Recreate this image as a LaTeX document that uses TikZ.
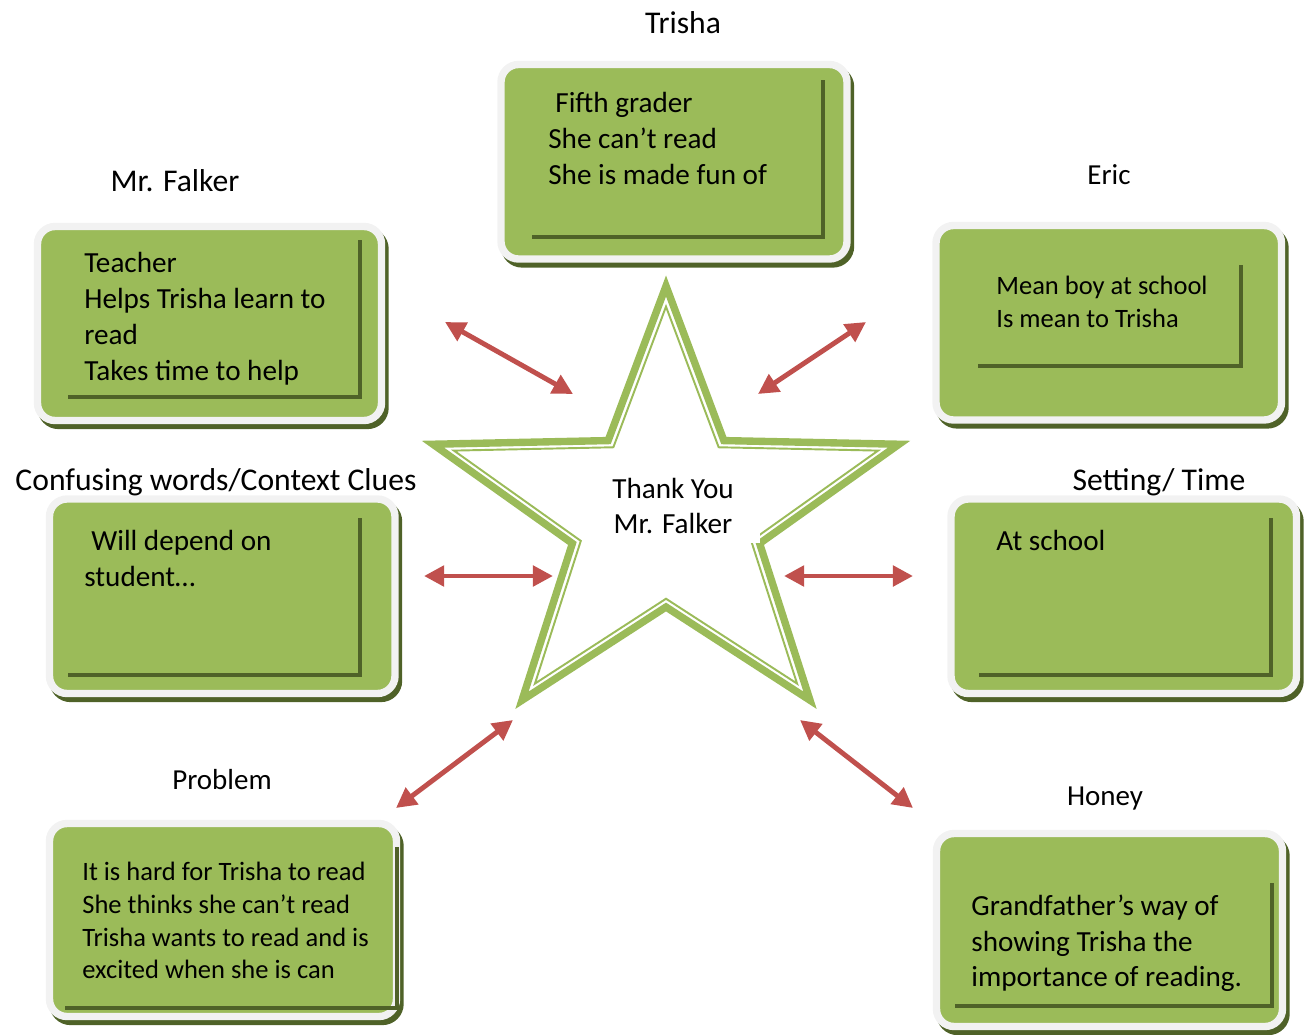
\documentclass[tikz,border=0pt]{standalone}
\usepackage{fontspec}
\setmainfont{Carlito}
\usetikzlibrary{arrows.meta,shadows,fit}
\definecolor{cardgreen}{HTML}{9BBB59}
\definecolor{darkgreen}{HTML}{4F6228}
\definecolor{cardrim}{HTML}{F2F2F2}
\definecolor{arrowred}{HTML}{C0504D}
\tikzset{
  card/.style={draw=cardrim, fill=cardgreen, line width=4.2pt, rounded corners=10pt, inner sep=0pt,
    general shadow={draw=darkgreen, fill=darkgreen, shadow xshift=2pt, shadow yshift=-2.8pt}},
  cardline/.style={darkgreen, line width=2.8pt},
  cardtext/.style={anchor=north west, align=left, inner sep=0pt, font=\fontsize{16.6}{20.4}\selectfont},
  smalltext/.style={cardtext, font=\fontsize{15.1}{18.6}\selectfont},
  title/.style={anchor=base, inner sep=0pt, font=\fontsize{18}{22}\selectfont},
  subtitle/.style={title, font=\fontsize{16.5}{20}\selectfont},
  link/.style={arrowred, line width=2.8pt, {Triangle[length=11.5pt,width=11.5pt]}-{Triangle[length=11.5pt,width=11.5pt]}},
}
\begin{document}
\begin{tikzpicture}[x=0.02cm, y=-0.02cm]
\useasboundingbox (0,0) rectangle (1307,1034);
%%%%%%%%%%%%%
\node[card, fit={(501,64.5) (847,259)}] (trishacard) {};
\node[card, fit={(37.5,226.5) (381.5,420.5)}] (falkercard) {};
\node[card, fit={(936,225.5) (1281.5,420)}] (ericcard) {};
\node[card, fit={(49.5,499) (395,693.5)}] (wordscard) {};
\node[card, fit={(951,499) (1296.5,693.5)}] (settingcard) {};
\node[card, fit={(49.5,823.5) (396.5,1016.5)}] (problemcard) {};
\node[card, fit={(936.5,833.5) (1282.5,1026.5)}] (honeycard) {};
%%%%%%%%%%%%%
\draw[cardline] (532,237) -| (823,80);
\draw[cardline] (68,397) -| (360,240);
\draw[cardline] (978,366) -| (1241,265);
\draw[cardline] (68,675) -| (360,518);
\draw[cardline] (979,675) -| (1271,518);
\draw[cardline] (65,1008) -| (397,847);
\draw[cardline] (955,1006) -| (1272,883);
%%%%%%%%%%%%%
\node[cardtext] (trishatext) at (548,92) {\hspace{4pt}Fifth grader\\She can’t read\\She is made fun of};
\node[cardtext] (falkertext) at (84,252) {Teacher\\Helps Trisha learn to\\read\\Takes time to help};
\node[smalltext] (erictext) at (996,276) {Mean boy at school\\Is mean to Trisha};
\node[cardtext] (wordstext) at (84,530) {\hspace{4pt}Will depend on\\student…};
\node[cardtext] (settingtext) at (996,530) {At school};
\node[smalltext] (problemtext) at (82,862) {It is hard for Trisha to read\\She thinks she can’t read\\Trisha wants to read and is\\excited when she is can};
\node[cardtext, font=\fontsize{16.6}{20.1}\selectfont] (honeytext) at (971,895) {Grandfather’s way of\\showing Trisha the\\importance of reading.};
%%%%%%%%%%%%%
\node[title] (trishalabel) at (683,34) {Trisha};
\node[title] (falkerlabel) at (175,191) {Mr. Falker};
\node[subtitle] (ericlabel) at (1109,184) {Eric};
\node[title] (wordslabel) at (216,490) {Confusing words/Context Clues};
\node[title] (settinglabel) at (1159,490) {Setting/ Time};
\node[subtitle] (problemlabel) at (222,789) {Problem};
\node[subtitle] (honeylabel) at (1105,805) {Honey};
%%%%%%%%%%%%%
\begin{scope}[shift={(666,515)}, xscale=1.07]
\draw[cardgreen, line width=4.2pt] (-90:229) -- (-54:92) -- (-18:229) -- (18:92) -- (54:229) -- (90:92) -- (126:229) -- (162:92) -- (198:229) -- (234:92) -- cycle;
\draw[cardgreen, line width=1.1pt, scale=0.91] (-90:229) -- (-54:92) -- (-18:229) -- (18:92) -- (54:229) -- (90:92) -- (126:229) -- (162:92) -- (198:229) -- (234:92) -- cycle;
\end{scope}
\node[fill=white, inner sep=0pt, fit={(610,470) (760,543)}] (gap) {};
\node[align=center, inner sep=0pt, font=\fontsize{16.6}{20.4}\selectfont] (thanks) at (673,506) {Thank You\\Mr. Falker};
%%%%%%%%%%%%%
\coordinate (a1) at (445,322); \coordinate (b1) at (573,394);
\coordinate (a2) at (866,322); \coordinate (b2) at (758,394);
\coordinate (a3) at (424,576); \coordinate (b3) at (553,576);
\coordinate (a4) at (784,576); \coordinate (b4) at (913,576);
\coordinate (a5) at (396,808); \coordinate (b5) at (513,720);
\coordinate (a6) at (800,720); \coordinate (b6) at (913,808);
\draw[link] (a1) -- (b1);
\draw[link] (a2) -- (b2);
\draw[link] (a3) -- (b3);
\draw[link] (a4) -- (b4);
\draw[link] (a5) -- (b5);
\draw[link] (a6) -- (b6);
\end{tikzpicture}
\end{document}
